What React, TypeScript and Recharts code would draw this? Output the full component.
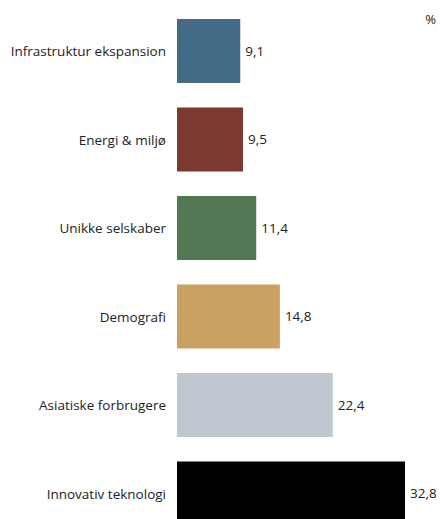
import { Bar, BarChart, Cell, LabelList, XAxis, YAxis } from 'recharts';

const themes = [
  'Infrastruktur ekspansion',
  'Energi & miljø',
  'Unikke selskaber',
  'Demografi',
  'Asiatiske forbrugere',
  'Innovativ teknologi',
];
const weights = [9.1, 9.5, 11.4, 14.8, 22.4, 32.8];
const colors = ['#436a87', '#7b3930', '#517853', '#c9a261', '#c0c7d1', '#000000'];

const data = themes.map((name, i) => ({ name, value: weights[i] }));

const FONT = '"Open Sans", sans-serif';
const fmt = (v: number) => v.toFixed(1).replace('.', ',');

export default function App() {
  return (
    <div style={{ position: 'fixed', left: 0, top: 0, width: 440, height: 519, overflow: 'hidden', background: '#fff' }}>
      <div
        style={{
          position: 'absolute',
          right: 4,
          top: 10,
          fontFamily: FONT,
          fontSize: 13,
          color: '#222',
        }}
      >
        %
      </div>
      <BarChart
        width={440}
        height={538}
        data={data}
        layout="vertical"
        margin={{ top: 7, right: 35, bottom: 0, left: 0 }}
        barSize={64}
      >
        <XAxis type="number" domain={[0, 32.8]} hide />
        <YAxis
          type="category"
          dataKey="name"
          width={177}
          axisLine={false}
          tickLine={false}
          tickSize={0}
          tickMargin={11}
          tick={{ fill: '#222', fontSize: 13.5, fontFamily: FONT }}
        />
        <Bar dataKey="value" isAnimationActive={false}>
          {data.map((d, i) => (
            <Cell key={d.name} fill={colors[i]} />
          ))}
          <LabelList
            dataKey="value"
            position="right"
            offset={5}
            formatter={(v: any) => fmt(Number(v))}
            style={{ fill: '#222', fontSize: 13.5, fontFamily: FONT }}
          />
        </Bar>
      </BarChart>
    </div>
  );
}
